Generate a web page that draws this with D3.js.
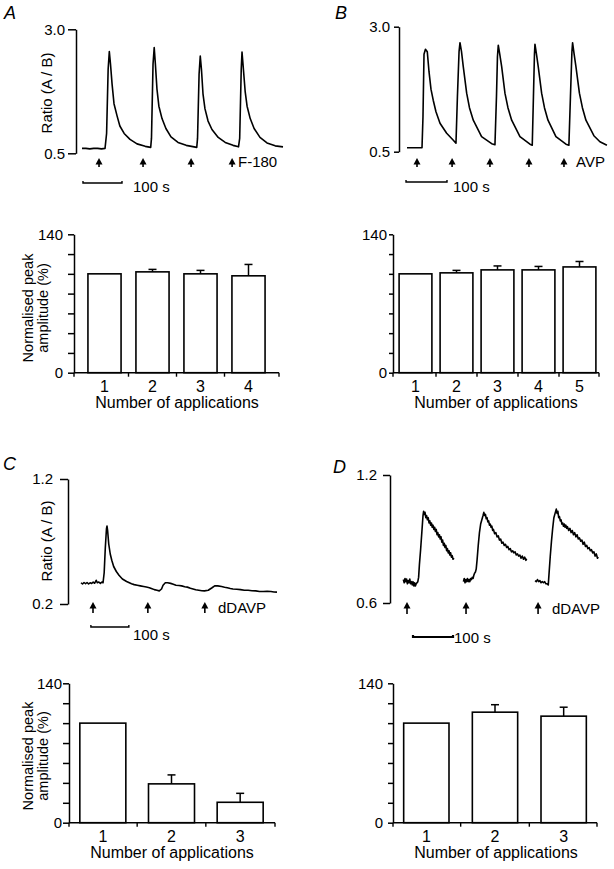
<!DOCTYPE html>
<html>
<head>
<meta charset="utf-8">
<script src="https://cdn.jsdelivr.net/npm/d3@7"></script>
<style>
html,body{margin:0;padding:0;background:#fff;}
svg{display:block;}
text{font-family:"Liberation Sans",Arial,Helvetica,sans-serif;fill:#000;}
</style>
</head>
<body>
<svg id="fig" width="614" height="869"></svg>
<script>
// ---------------- DATA ----------------
// Trace A: F-180 applications, [time (s), ratio A/B]
const traceA = [[0,0.6],[10,0.6],[20,0.59],[30,0.6],[40,0.6],[50,0.59],[59,0.6],[63,0.9],[67,2.2],[70,2.55],[73,2.3],[77,1.9],[82,1.5],[90,1.25],[97,1.05],[108,0.9],[123,0.78],[141,0.69],[162,0.64],[176,0.62],
  [178,0.8],[182,2.3],[185,2.63],[188,2.3],[192,1.8],[197,1.45],[205,1.2],[215,1.0],[228,0.83],[246,0.72],[267,0.66],[294,0.62],
  [296,0.8],[300,2.1],[303,2.46],[306,2.2],[310,1.7],[315,1.4],[323,1.15],[333,0.98],[349,0.82],[367,0.72],[387,0.66],[401,0.63],
  [404,0.8],[408,2.2],[410,2.54],[413,2.25],[418,1.75],[423,1.45],[431,1.2],[441,1.0],[456,0.82],[474,0.71],[495,0.65],[515,0.63]];
const arrowsA = [43.6,156.4,279.5,384.6];

// Trace B: AVP applications
const traceB = [[0,0.58],[20,0.58],[36.6,0.58],[39,1.2],[41.5,2.45],[45,2.55],[49.5,2.5],[53.7,2.1],[58.5,1.75],[64,1.53],[70.7,1.3],[80.5,1.07],[96.8,0.87],[113,0.73],[119.5,0.67],
  [123,1.6],[127,2.5],[129.3,2.68],[133,2.5],[137.3,2.2],[145.6,1.67],[152.4,1.38],[161.7,1.13],[182,0.8],[206.6,0.66],[214.6,0.64],
  [218.3,1.6],[220.7,2.4],[222.7,2.63],[226.3,2.45],[231,2.2],[239,1.67],[246.3,1.38],[255.4,1.13],[275.6,0.8],[300,0.65],[305.6,0.63],
  [308.5,1.6],[311,2.45],[312.2,2.65],[315.9,2.45],[320.2,2.2],[328.5,1.67],[335.4,1.38],[344,1.13],[363.4,0.8],[387.8,0.65],[395,0.63],
  [398.8,1.6],[402.4,2.5],[404,2.68],[407.8,2.45],[412.2,2.2],[420.7,1.67],[428,1.38],[436.6,1.13],[456,0.82],[470.7,0.7],[487.8,0.63]];
const arrowsB = [24.4,110,202.4,297.6,383];

// Trace C: dDAVP applications (desensitising)
const traceC = [[0,0.37],[4,0.36],[8,0.372],[12,0.362],[16,0.372],[20,0.36],[24,0.37],[28,0.364],[32,0.375],[36,0.366],[40,0.39],[43,0.37],[47,0.376],[51,0.365],[55,0.376],[58,0.37],
  [61,0.45],[64,0.65],[67,0.8],[68.5,0.824],[70,0.79],[73,0.68],[77,0.6],[81,0.55],[86,0.5],[93,0.46],[100,0.43],[109,0.4],[120,0.38],[133,0.362],[140,0.355],[148,0.35],[156,0.345],[165,0.34],[172,0.336],[180,0.33],[187,0.322],[193,0.315],[200,0.31],[206,0.305],
  [212,0.32],[216,0.35],[222,0.37],[228,0.37],[236,0.365],[243,0.358],[250,0.35],[258,0.348],[265,0.345],[273,0.338],[280,0.335],[288,0.326],[295,0.32],[302,0.314],[310,0.31],[318,0.306],[325,0.305],[335,0.31],[345,0.33],[352,0.345],[360,0.345],[370,0.34],[378,0.334],[385,0.33],[393,0.324],[400,0.32],[410,0.318],[420,0.315],[430,0.31],[440,0.31],[450,0.306],[460,0.305],[470,0.3],[480,0.3],[490,0.302],[500,0.3],[508,0.296],[516,0.295]];
const arrowsC = [31.6,176,326];

// Trace D: dDAVP applications (three separate recordings)
const traceD1 = [[0.8,0.71],[3,0.695],[5,0.715],[7,0.7],[9,0.712],[11,0.69],[13,0.705],[15,0.695],[17,0.712],[19,0.69],[21,0.7],[23,0.685],[25,0.7],[27,0.68],[29,0.695],[31,0.68],[33,0.69],[35,0.695],[37,0.7],[39,0.72],[41,0.78],[44,0.85],[47,0.93],[50,1.01],[51.5,1.03],[53,1.015],[55,1.025],[57,1.0],[59,1.01],[61,0.99],[63,1.0],[65,0.975],[67,0.985],[69,0.965],[71,0.975],[73,0.955],[75,0.965],[77,0.945],[79,0.955],[81,0.935],[83,0.945],[85,0.92],[87,0.93],[89,0.91],[91,0.92],[93,0.9],[95,0.91],[97,0.885],[99,0.895],[101,0.87],[103,0.88],[105,0.86],[107,0.87],[109,0.845],[111,0.855],[113,0.835],[115,0.845],[117,0.825],[119,0.835],[121,0.815],[123,0.822],[125,0.805],[127.5,0.81]];
const traceD2 = [[151,0.7],[153,0.715],[155,0.695],[157,0.71],[159,0.7],[161,0.715],[163,0.7],[165,0.71],[167,0.7],[169,0.715],[171,0.71],[173,0.72],[175,0.715],[177,0.73],[179,0.74],[181,0.745],[183,0.76],[185,0.8],[188,0.87],[191,0.93],[194,0.97],[197,0.99],[200,1.01],[202,1.025],[204,1.01],[206,1.015],[208,0.995],[210,1.0],[212,0.98],[214,0.985],[216,0.965],[218,0.97],[220,0.955],[222,0.96],[224,0.94],[226,0.945],[229,0.925],[232,0.93],[235,0.91],[238,0.915],[241,0.895],[244,0.9],[247,0.88],[250,0.885],[253,0.87],[256,0.875],[259,0.86],[262,0.865],[265,0.85],[268,0.855],[271,0.84],[274,0.845],[277,0.835],[280,0.84],[283,0.825],[286,0.83],[289,0.82],[292,0.825],[295,0.81],[298,0.82],[301,0.805],[304,0.815],[307,0.8],[309,0.808]];
const traceD3 = [[330,0.705],[333,0.7],[336,0.71],[339,0.7],[342,0.705],[345,0.695],[348,0.7],[351,0.695],[354,0.7],[357,0.69],[360,0.69],[363,0.685],[365,0.74],[368,0.82],[371,0.89],[374,0.95],[377,1.0],[380,1.02],[383,1.04],[385,1.02],[387,1.03],[389,1.0],[391,1.005],[393,0.985],[395,0.99],[397,0.97],[399,0.975],[401,0.96],[403,0.97],[405,0.955],[407,0.965],[409,0.95],[411,0.958],[414,0.94],[417,0.95],[420,0.93],[423,0.94],[426,0.92],[429,0.93],[432,0.91],[435,0.92],[438,0.9],[441,0.905],[444,0.89],[447,0.895],[450,0.875],[453,0.885],[456,0.865],[459,0.87],[462,0.855],[465,0.86],[468,0.845],[471,0.85],[474,0.835],[477,0.84],[480,0.82],[483,0.83],[486,0.81],[488,0.815]];
const arrowsD = [10,157.5,337.5];

// Bar charts: normalised peak amplitude (%), mean and SEM
const catsA = ["1","2","3","4"];
const valsA = [100,102,100,98];
const semA  = [0,2.5,3.5,11.5];
const catsB = ["1","2","3","4","5"];
const valsB = [100,101,104,104,107];
const semB  = [0,2.5,4,3.5,5.5];
const catsC = ["1","2","3"];
const valsC = [100,39,20.5];
const semC  = [0,9,9];
const catsD = ["1","2","3"];
const valsD = [100,111,107];
const semD  = [0,7.5,9];

const barTicks = [0,20,40,60,80,100,120,140];

// ---------------- DRAWING ----------------
const svg = d3.select("#fig");
const FS = 15;
const FSB = 16;

function drawTrace(c) {
  const g = svg.append("g");
  const x = d3.scaleLinear().domain([0, c.tMax]).range([c.x0, c.x1]);
  const y = d3.scaleLinear().domain(c.yDomain).range([c.yBottom, c.yTop]);
  const ax = g.append("g").attr("transform", `translate(${c.axisX},0)`)
    .call(d3.axisLeft(y).tickValues(c.yDomain).tickFormat(d3.format(".1f"))
      .tickSize(c.tickSize).tickPadding(c.tickPad).tickSizeOuter(0));
  ax.selectAll("path,line").attr("stroke","#000").attr("stroke-width",1.5);
  ax.selectAll("text").style("font-size", FS+"px").attr("fill","#000");
  const line = d3.line().x(d => x(d[0])).y(d => y(d[1]));
  c.series.forEach(s => {
    g.append("path").datum(s).attr("d", line).attr("fill","none")
      .attr("stroke","#000").attr("stroke-width", c.lw).attr("stroke-linejoin","round");
  });
  // arrows
  c.arrows.forEach(t => {
    const cx = x(t);
    g.append("line").attr("x1",cx).attr("x2",cx).attr("y1",c.arrowTip+5).attr("y2",c.arrowBottom)
      .attr("stroke","#000").attr("stroke-width",1.6);
    g.append("path").attr("d",`M${cx},${c.arrowTip} L${cx-3.5},${c.arrowTip+6.5} L${cx+3.5},${c.arrowTip+6.5} Z`).attr("fill","#000");
  });
  g.append("text").attr("x", c.agentX).attr("y", c.agentY).style("font-size", FS+"px").text(c.agent);
  // scale bar 100 s
  const sx0 = x(c.sbStart), sx1 = x(c.sbStart + 100);
  g.append("path").attr("d",`M${sx0},${c.sbY-2} V${c.sbY} H${sx1} V${c.sbY-2}`)
    .attr("fill","none").attr("stroke","#000").attr("stroke-width",c.sbW);
  g.append("text").attr("x", c.sbTextX).attr("y", c.sbTextY).style("font-size", FS+"px").text("100 s");
  if (c.yLabel) {
    g.append("text").attr("transform",`translate(${c.yLabelX},${c.yLabelY}) rotate(-90)`)
      .attr("text-anchor","middle").style("font-size", FS+"px").text("Ratio (A / B)");
  }
  g.append("text").attr("x", c.letterX).attr("y", c.letterY).style("font-size","18px")
    .style("font-style","italic").text(c.letter);
}

function drawBars(c) {
  const g = svg.append("g");
  const x = d3.scaleBand().domain(c.cats).range(c.band).paddingInner(c.pad).paddingOuter(c.pad/2);
  const y = d3.scaleLinear().domain([0,140]).range([c.yBottom, c.yTop]);
  // bars
  c.cats.forEach((k,i) => {
    g.append("rect").attr("x", x(k)).attr("y", y(c.vals[i]))
      .attr("width", x.bandwidth()).attr("height", y(0) - y(c.vals[i]))
      .attr("fill","#fff").attr("stroke","#000").attr("stroke-width",1.6);
    if (c.sem[i] > 0) {
      const cx = x(k) + x.bandwidth()/2;
      g.append("line").attr("x1",cx).attr("x2",cx).attr("y1",y(c.vals[i])).attr("y2",y(c.vals[i]+c.sem[i]))
        .attr("stroke","#000").attr("stroke-width",1.5);
      g.append("line").attr("x1",cx-4).attr("x2",cx+4).attr("y1",y(c.vals[i]+c.sem[i])).attr("y2",y(c.vals[i]+c.sem[i]))
        .attr("stroke","#000").attr("stroke-width",1.5);
    }
  });
  // y axis
  const ay = g.append("g").attr("transform",`translate(${c.axisX},0)`)
    .call(d3.axisLeft(y).tickValues(barTicks).tickFormat(d => (d===0||d===140) ? d : "")
      .tickSize(c.yTick).tickPadding(c.yPad).tickSizeOuter(0));
  ay.selectAll("path,line").attr("stroke","#000").attr("stroke-width",1.5);
  ay.selectAll("text").style("font-size", FS+"px").attr("fill","#000");
  // x axis
  g.append("line").attr("x1", c.axisX).attr("x2", c.xEnd).attr("y1", y(0)).attr("y2", y(0))
    .attr("stroke","#000").attr("stroke-width",1.5);
  const bounds = [c.axisX];
  c.cats.slice(0,-1).forEach(k => bounds.push(x(k) + x.bandwidth()/2 + x.step()/2));
  bounds.push(c.xEnd);
  bounds.forEach(b => g.append("line").attr("x1",b).attr("x2",b).attr("y1",y(0)).attr("y2",y(0)+4)
    .attr("stroke","#000").attr("stroke-width",1.4));
  const axb = g.append("g").attr("transform",`translate(0,${y(0)})`)
    .call(d3.axisBottom(x).tickSize(0).tickPadding(c.labelPad));
  axb.select(".domain").remove();
  axb.selectAll("text").style("font-size", FSB+"px").attr("fill","#000");
  g.append("text").attr("x", c.titleX).attr("y", c.titleY).attr("text-anchor","middle")
    .style("font-size", FSB+"px").text("Number of applications");
  if (c.yLabel) {
    g.append("text").attr("transform",`translate(${c.yLabelX1},${c.yLabelY}) rotate(-90)`)
      .attr("text-anchor","middle").style("font-size", "14.5px").text("Normalised peak");
    g.append("text").attr("transform",`translate(${c.yLabelX2},${c.yLabelY}) rotate(-90)`)
      .attr("text-anchor","middle").style("font-size", "14.5px").text("amplitude (%)");
  }
}

drawTrace({series:[traceA], arrows:arrowsA, tMax:515, x0:82, x1:283, axisX:76, yDomain:[0.5,3.0], yBottom:153.3, yTop:29.3,
  tickSize:8, tickPad:3, lw:1.6, arrowTip:158, arrowBottom:167, agent:"F-180", agentX:238, agentY:167,
  sbStart:2.5, sbY:183, sbW:1.4, sbTextX:133, sbTextY:192, yLabel:true, yLabelX:52, yLabelY:93, letter:"A", letterX:4, letterY:19});
drawTrace({series:[traceB], arrows:arrowsB, tMax:488, x0:407, x1:607, axisX:399, yDomain:[0.5,3.0], yBottom:151.7, yTop:26.7,
  tickSize:5, tickPad:4, lw:1.6, arrowTip:158, arrowBottom:167, agent:"AVP", agentX:576, agentY:167,
  sbStart:-2.4, sbY:182, sbW:1.4, sbTextX:453, sbTextY:192, yLabel:false, letter:"B", letterX:335, letterY:19});
drawTrace({series:[traceC], arrows:arrowsC, tMax:516, x0:81, x1:277, axisX:68, yDomain:[0.2,1.2], yBottom:604, yTop:479,
  tickSize:8, tickPad:7, lw:1.6, arrowTip:602, arrowBottom:613, agent:"dDAVP", agentX:218, agentY:613,
  sbStart:26, sbY:627, sbW:1.4, sbTextX:133, sbTextY:640, yLabel:true, yLabelX:52, yLabelY:541, letter:"C", letterX:3, letterY:470});
drawTrace({series:[traceD1,traceD2,traceD3], arrows:arrowsD, tMax:488, x0:403, x1:598.3, axisX:390, yDomain:[0.6,1.2], yBottom:603, yTop:475,
  tickSize:7, tickPad:6, lw:1.6, arrowTip:602, arrowBottom:614, agent:"dDAVP", agentX:552, agentY:614,
  sbStart:25, sbY:637, sbW:2.2, sbTextX:454, sbTextY:643, yLabel:false, letter:"D", letterX:333, letterY:473});

drawBars({cats:catsA, vals:valsA, sem:semA, band:[80.5,272.5], pad:0.31, axisX:74, xEnd:279, yTop:234.3, yBottom:372.7,
  yTick:6, yPad:5, labelPad:8, titleX:177, titleY:408, yLabel:true, yLabelX1:33, yLabelX2:47.5, yLabelY:308});
drawBars({cats:catsB, vals:valsB, sem:semB, band:[395,600], pad:0.2, axisX:393, xEnd:599, yTop:234.3, yBottom:372.7,
  yTick:4, yPad:2, labelPad:8, titleX:496, titleY:408, yLabel:false});
drawBars({cats:catsC, vals:valsC, sem:semC, band:[68.5,274.5], pad:0.33, axisX:69, xEnd:275, yTop:683.3, yBottom:822.7,
  yTick:6, yPad:1, labelPad:8, titleX:172, titleY:858, yLabel:true, yLabelX1:33, yLabelX2:47.5, yLabelY:756});
drawBars({cats:catsD, vals:valsD, sem:semD, band:[392,598], pad:0.34, axisX:393, xEnd:597, yTop:683.3, yBottom:822.7,
  yTick:5, yPad:5, labelPad:8, titleX:496, titleY:858, yLabel:false});
</script>
</body>
</html>
